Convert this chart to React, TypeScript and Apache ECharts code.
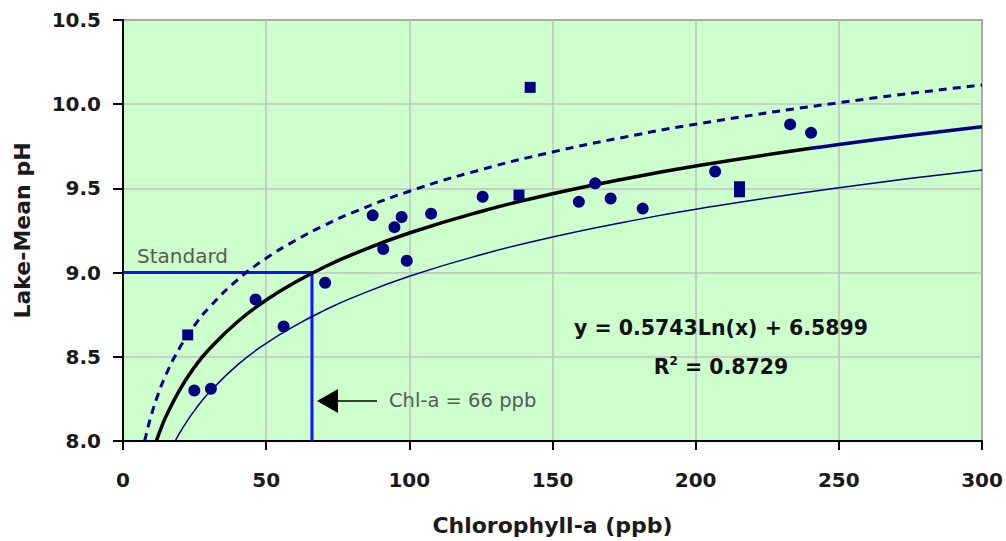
import React, { useEffect, useRef } from "react";
import * as echarts from "echarts";

// ---- Data ----
const X_TICKS = [0, 50, 100, 150, 200, 250, 300];
const Y_TICKS = [8.0, 8.5, 9.0, 9.5, 10.0, 10.5];

// observed lakes (circles)
const CIRCLE_POINTS: [number, number][] = [
  [24.9, 8.30], [30.7, 8.31], [46.3, 8.84], [56.1, 8.68], [70.6, 8.94],
  [87.2, 9.34], [90.9, 9.14], [94.8, 9.27], [97.3, 9.33], [99.1, 9.07],
  [107.6, 9.35], [125.6, 9.45], [159.2, 9.42], [164.9, 9.53], [170.3, 9.44],
  [181.5, 9.38], [206.8, 9.60], [233.0, 9.88], [240.3, 9.83],
];
// observed lakes (squares)
const SQUARE_POINTS: [number, number][] = [
  [22.6, 8.63], [138.3, 9.46], [142.2, 10.10], [215.3, 9.51], [215.3, 9.48],
];

// trend line y = 0.5743Ln(x) + 6.5899 (sampled)
const FIT_X = [11.65, 12, 13, 15, 20, 25, 30, 40, 50, 60, 70, 80, 100, 125, 150, 175, 200, 240.3];
const FIT_Y = [8.0, 8.017, 8.063, 8.145, 8.31, 8.439, 8.543, 8.708, 8.837, 8.941, 9.03, 9.107, 9.235, 9.363, 9.468, 9.556, 9.633, 9.738];
const FIT_EXT_X = [240.3, 250, 275, 300];
const FIT_EXT_Y = [9.738, 9.761, 9.816, 9.866];

// upper bound (dashed)
const UPPER_X = [7.56, 8, 9, 10, 12, 15, 20, 25, 30, 40, 50, 60, 70, 80, 100, 125, 150, 175, 200, 250, 300];
const UPPER_Y = [8.0, 8.032, 8.1, 8.16, 8.265, 8.393, 8.559, 8.687, 8.791, 8.957, 9.085, 9.189, 9.278, 9.355, 9.483, 9.611, 9.716, 9.804, 9.881, 10.009, 10.114];

// lower bound (thin)
const LOWER_X = [18.2, 19, 20, 22, 25, 30, 40, 50, 60, 70, 80, 100, 125, 150, 175, 200, 250, 300];
const LOWER_Y = [8.0, 8.024, 8.054, 8.108, 8.182, 8.286, 8.452, 8.58, 8.684, 8.773, 8.85, 8.978, 9.106, 9.211, 9.299, 9.376, 9.504, 9.609];

const STANDARD_PH = 9.0;
const CHLA_AT_STANDARD = 66;

const EQUATION = "y = 0.5743Ln(x) + 6.5899";
const R2_VALUE = "0.8729";

const zip = (xs: number[], ys: number[]) => xs.map((x, i) => [x, ys[i]]);

const FONT = "DejaVu Sans";
const NAVY = "#000080";

export default function App() {
  const ref = useRef<HTMLDivElement>(null);

  useEffect(() => {
    if (!ref.current) return;
    const chart = echarts.init(ref.current, null, { renderer: "svg" });
    const xMin = X_TICKS[0];
    const xMax = X_TICKS[X_TICKS.length - 1];
    const yMin = Y_TICKS[0];
    const yMax = Y_TICKS[Y_TICKS.length - 1];

    chart.setOption({
      animation: false,
      backgroundColor: "#ffffff",
      grid: {
        left: 123,
        right: 24,
        top: 20,
        bottom: 100,
        show: true,
        backgroundColor: "#ccffcc",
        borderColor: "#333333",
        borderWidth: 1.5,
      },
      xAxis: {
        type: "value",
        min: xMin,
        max: xMax,
        interval: 50,
        name: "Chlorophyll-a (ppb)",
        nameLocation: "middle",
        nameGap: 73,
        nameTextStyle: { fontFamily: FONT, fontWeight: "bold", fontSize: 22, color: "#1a1a1a" },
        axisLine: { show: true, lineStyle: { color: "#000", width: 2 } },
        axisTick: { show: true, length: 9, lineStyle: { color: "#000", width: 2 } },
        axisLabel: { margin: 29, fontFamily: FONT, fontWeight: "bold", fontSize: 20, color: "#1a1a1a" },
        splitLine: { show: true, lineStyle: { color: "#c0c0c0", width: 1.5 } },
      },
      yAxis: {
        type: "value",
        min: yMin,
        max: yMax,
        interval: 0.5,
        name: "Lake-Mean pH",
        nameLocation: "middle",
        nameGap: 90,
        nameTextStyle: { fontFamily: FONT, fontWeight: "bold", fontSize: 22, color: "#1a1a1a" },
        axisLine: { show: true, lineStyle: { color: "#000", width: 2 } },
        axisTick: { show: true, length: 10, lineStyle: { color: "#000", width: 2 } },
        axisLabel: {
          margin: 22,
          fontFamily: FONT,
          fontWeight: "bold",
          fontSize: 20,
          color: "#1a1a1a",
          formatter: (v: number) => v.toFixed(1),
        },
        splitLine: { show: true, lineStyle: { color: "#c0c0c0", width: 1.5 } },
      },
      series: [
        {
          type: "line",
          name: "Standard",
          data: [[xMin, STANDARD_PH], [CHLA_AT_STANDARD, STANDARD_PH], [CHLA_AT_STANDARD, yMin]],
          showSymbol: false,
          lineStyle: { color: "#0a14ff", width: 3 },
          z: 2,
        },
        {
          type: "line",
          name: "Lower",
          data: zip(LOWER_X, LOWER_Y),
          smooth: true,
          showSymbol: false,
          lineStyle: { color: NAVY, width: 1.5 },
          z: 3,
        },
        {
          type: "line",
          name: "Upper",
          data: zip(UPPER_X, UPPER_Y),
          smooth: true,
          showSymbol: false,
          lineStyle: { color: NAVY, width: 3, type: [8, 6] },
          z: 3,
        },
        {
          type: "line",
          name: "Fit",
          data: zip(FIT_X, FIT_Y),
          smooth: true,
          showSymbol: false,
          lineStyle: { color: "#000000", width: 3.5 },
          z: 4,
        },
        {
          type: "line",
          name: "FitExt",
          data: zip(FIT_EXT_X, FIT_EXT_Y),
          smooth: true,
          showSymbol: false,
          lineStyle: { color: NAVY, width: 3.5 },
          z: 4,
        },
        {
          type: "scatter",
          name: "Lakes",
          data: CIRCLE_POINTS,
          symbol: "circle",
          symbolSize: 12,
          itemStyle: { color: NAVY, opacity: 1 },
          z: 5,
        },
        {
          type: "scatter",
          name: "Lakes2",
          data: SQUARE_POINTS,
          symbol: "rect",
          symbolSize: 11,
          itemStyle: { color: NAVY, opacity: 1 },
          z: 5,
        },
      ],
      graphic: [
        {
          type: "text",
          left: 137,
          top: 246,
          style: { text: "Standard", fontFamily: FONT, fontSize: 20, fill: "#595959" },
          z: 10,
        },
        {
          type: "line",
          shape: { x1: 337, y1: 401, x2: 377, y2: 401 },
          style: { stroke: "#000", lineWidth: 1.5 },
          z: 10,
        },
        {
          type: "polygon",
          shape: { points: [[317, 401], [338, 389], [338, 413]] },
          style: { fill: "#000" },
          z: 10,
        },
        {
          type: "text",
          left: 389,
          top: 390,
          style: { text: "Chl-a = 66 ppb", fontFamily: FONT, fontSize: 19.5, fill: "#595959" },
          z: 10,
        },
        {
          type: "text",
          x: 721,
          y: 328,
          style: {
            text: EQUATION,
            fontFamily: FONT,
            fontWeight: "bold",
            fontSize: 20.5,
            fill: "#111111",
            align: "center",
            verticalAlign: "middle",
          },
          z: 10,
        },
        {
          type: "text",
          x: 721,
          y: 367,
          style: {
            text: "{a|R}{b|2}{a| = " + R2_VALUE + "}",
            align: "center",
            verticalAlign: "middle",
            rich: {
              a: { fontFamily: FONT, fontWeight: "bold", fontSize: 20.5, fill: "#111111", lineHeight: 24 },
              b: { fontFamily: FONT, fontWeight: "bold", fontSize: 12, fill: "#111111", lineHeight: 24, verticalAlign: "top", padding: [0, 0, 10, 0] },
            },
          },
          z: 10,
        },
      ],
    });

    return () => chart.dispose();
  }, []);

  return (
    <div
      ref={ref}
      style={{ position: "fixed", left: 0, top: 0, width: 1006, height: 541 }}
    />
  );
}
